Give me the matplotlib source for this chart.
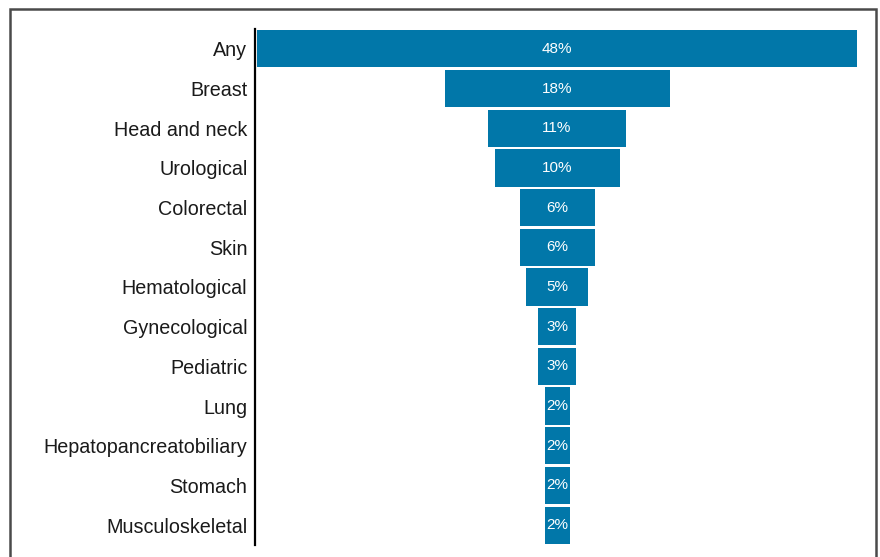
import matplotlib.pyplot as plt
from matplotlib.patches import Rectangle

categories = ['Any', 'Breast', 'Head and neck', 'Urological', 'Colorectal', 'Skin',
              'Hematological', 'Gynecological', 'Pediatric', 'Lung',
              'Hepatopancreatobiliary', 'Stomach', 'Musculoskeletal']
percents = [48, 18, 11, 10, 6, 6, 5, 3, 3, 2, 2, 2, 2]

BAR_COLOR = '#0177a9'

plt.rcParams['font.family'] = ['Liberation Sans', 'DejaVu Sans']

fig = plt.figure(figsize=(8.8, 5.57), dpi=100)
ax = fig.add_axes([0.2898, 0.0215, 0.6864, 0.9265])

# funnel: bars centred on zero
ypos = list(range(len(categories)))
lefts = [-p / 2 for p in percents]
ax.barh(ypos, percents, left=lefts, height=0.94, color=BAR_COLOR)

for y, p in zip(ypos, percents):
    ax.text(0, y, f'{p}%', ha='center', va='center', color='white', fontsize=11)

ax.set_xlim(-24.16, 24.16)
ax.set_ylim(len(categories) - 0.5, -0.5)
ax.set_yticks(ypos)
ax.set_yticklabels(categories, fontsize=14.2, color='#1a1a1a')
ax.tick_params(axis='y', length=0, pad=5.5)
ax.set_xticks([])
for side in ['top', 'right', 'bottom']:
    ax.spines[side].set_visible(False)
ax.spines['left'].set_linewidth(1.6)
ax.spines['left'].set_color('black')

# outer frame, open at the bottom
fig.patches.append(Rectangle((10 / 880, -0.1), 866 / 880, 1.1 - 9 / 557,
                             transform=fig.transFigure, fill=False,
                             edgecolor='#4a4a4a', linewidth=1.8))

fig.savefig('out.png', dpi=100)
